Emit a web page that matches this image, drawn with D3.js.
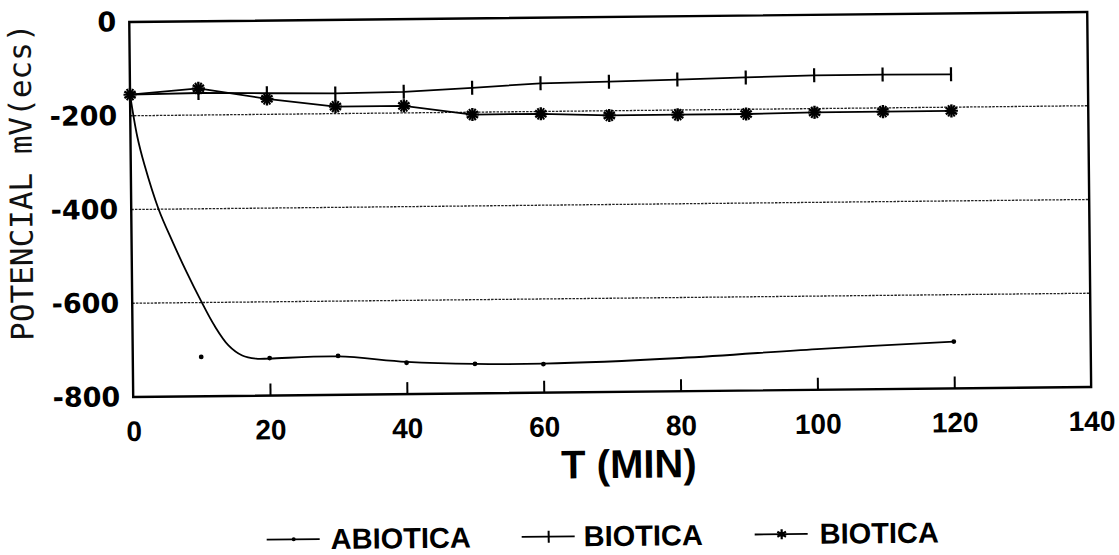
<!DOCTYPE html>
<html>
<head>
<meta charset="utf-8">
<script src="https://cdn.jsdelivr.net/npm/d3@7/dist/d3.min.js"></script>
<style>
  html, body { margin: 0; padding: 0; background: #fff; }
  svg { display: block; }
</style>
</head>
<body>
<svg id="chart" width="1119" height="555"></svg>
<script>
// Redox potential vs time, abiotic and biotic runs
const timeMin       = [0, 10, 20, 30, 40, 50, 60, 70, 80, 90, 100, 110, 120];
const bioticaPlus   = [-155, -153, -155, -157, -155, -148, -140, -138, -135, -132, -129, -129, -130];
const bioticaStar   = [-155, -143, -167, -185, -185, -205, -205, -210, -210, -210, -208, -208, -208];

// measured abiotic points
const abioticaTime  = [0, 10, 20, 30, 40, 50, 60, 120];
const abioticaValue = [-155, -716, -720, -717, -733, -737, -739, -700];

// smoothed abiotic trace
const abioticaFitTime  = [0, 1, 2, 4, 6, 8, 10, 12, 14, 16, 18, 20, 30, 40, 50, 60, 80, 100, 120];
const abioticaFitValue = [-155, -245, -305, -400, -470, -535, -595, -650, -692, -714, -721, -721, -718, -731, -737, -738, -729, -713, -700];

const xTicks = [0, 20, 40, 60, 80, 100, 120, 140];
const yTicks = [0, -200, -400, -600, -800];
const gridValues = [-200, -400, -600];

const legendLabels = ["ABIOTICA", "BIOTICA", "BIOTICA"];

const svg = d3.select("#chart");
const root = svg.append("g").attr("transform", "rotate(-0.6 610 280)");

const x = d3.scaleLinear().domain([0, 140]).range([132, 1090]);
const y = d3.scaleLinear().domain([-800, 0]).range([392, 17]);

const tickFont = "'Liberation Sans', Arial, sans-serif";

// dotted horizontal grid
root.append("g").selectAll("line").data(gridValues).join("line")
  .attr("x1", x(0)).attr("x2", x(140))
  .attr("y1", d => y(d)).attr("y2", d => y(d))
  .attr("stroke", "#222").attr("stroke-width", 1.3)
  .attr("stroke-dasharray", "2.5,1.2");

// x axis: ticks pointing inwards
const xAxis = root.append("g").attr("transform", `translate(0,${y(-800)})`)
  .call(d3.axisBottom(x).tickValues(xTicks).tickSizeInner(-12).tickSizeOuter(0).tickPadding(24).tickFormat(d => String(d)));
xAxis.select(".domain").remove();
xAxis.selectAll(".tick line").attr("stroke", "#000").attr("stroke-width", 2)
  .attr("opacity", d => (d === 0 || d === 140) ? 0 : 1);
xAxis.selectAll("text").attr("font-family", tickFont).attr("font-weight", "bold")
  .attr("font-size", 28).attr("fill", "#000");

// y axis labels
const yAxis = root.append("g").attr("transform", `translate(${x(0)},0)`)
  .call(d3.axisLeft(y).tickValues(yTicks).tickSize(0).tickPadding(13).tickFormat(d => String(d)));
yAxis.select(".domain").remove();
yAxis.selectAll("text").attr("font-family", "'DejaVu Sans', sans-serif").attr("font-weight", "bold")
  .attr("font-size", 27).attr("fill", "#000");

// frame
root.append("rect")
  .attr("x", x(0)).attr("y", y(0))
  .attr("width", x(140) - x(0)).attr("height", y(-800) - y(0))
  .attr("fill", "none").attr("stroke", "#000").attr("stroke-width", 2.4);

// axis titles
root.append("text")
  .attr("x", 627).attr("y", 478)
  .attr("text-anchor", "middle")
  .attr("font-family", tickFont).attr("font-weight", "bold").attr("font-size", 40)
  .text("T (MIN)");

root.append("text")
  .attr("transform", "translate(33,176) rotate(-90)")
  .attr("text-anchor", "middle")
  .attr("font-family", "'DejaVu Sans Mono', monospace").attr("font-size", 31)
  .attr("fill", "#111")
  .text("POTENCIAL mV(ecs)");

// series lines
const lineOf = (ts, vs, curve) => d3.line().curve(curve)
  .x((d, i) => x(ts[i])).y(d => y(d))(vs);

root.append("path").attr("d", lineOf(abioticaFitTime, abioticaFitValue, d3.curveCatmullRom.alpha(0.5)))
  .attr("fill", "none").attr("stroke", "#000").attr("stroke-width", 1.8);
root.append("path").attr("d", lineOf(timeMin, bioticaPlus, d3.curveLinear))
  .attr("fill", "none").attr("stroke", "#000").attr("stroke-width", 1.8);
root.append("path").attr("d", lineOf(timeMin, bioticaStar, d3.curveLinear))
  .attr("fill", "none").attr("stroke", "#000").attr("stroke-width", 1.8);

// markers
const dotMark = (g, cx, cy) => g.append("circle").attr("cx", cx).attr("cy", cy).attr("r", 2.4).attr("fill", "#000");
const plusMark = (g, cx, cy) => g.append("line").attr("x1", cx).attr("x2", cx).attr("y1", cy - 7).attr("y2", cy + 7)
  .attr("stroke", "#000").attr("stroke-width", 2.2);
const starPath = d3.symbol().type(d3.symbolAsterisk).size(120)();
const starMark = (g, cx, cy) => {
  g.append("path").attr("d", starPath).attr("transform", `translate(${cx},${cy})`)
    .attr("fill", "none").attr("stroke", "#000").attr("stroke-width", 2.4);
  g.append("path").attr("d", starPath).attr("transform", `translate(${cx},${cy}) rotate(90)`)
    .attr("fill", "none").attr("stroke", "#000").attr("stroke-width", 2);
  g.append("circle").attr("cx", cx).attr("cy", cy).attr("r", 2.4).attr("fill", "#000");
};

const marks = root.append("g");
abioticaTime.forEach((t, i) => dotMark(marks, x(t), y(abioticaValue[i])));
timeMin.forEach((t, i) => plusMark(marks, x(t), y(bioticaPlus[i])));
timeMin.forEach((t, i) => starMark(marks, x(t), y(bioticaStar[i])));

// legend
const legend = root.append("g");
const legendItems = [
  { x0: 264, tx: 328 },
  { x0: 519, tx: 581 },
  { x0: 752, tx: 817 }
];
const legendLineY = 536;
legendItems.forEach((it, i) => {
  legend.append("line").attr("x1", it.x0).attr("x2", it.x0 + 53)
    .attr("y1", legendLineY).attr("y2", legendLineY)
    .attr("stroke", "#000").attr("stroke-width", 1.8);
  const mg = legend.append("g");
  if (i === 1) {
    mg.append("line").attr("x1", it.x0 + 27).attr("x2", it.x0 + 27)
      .attr("y1", legendLineY - 6).attr("y2", legendLineY + 6)
      .attr("stroke", "#000").attr("stroke-width", 2);
  } else if (i === 2) {
    mg.append("path").attr("d", d3.symbol().type(d3.symbolAsterisk).size(70)())
      .attr("transform", `translate(${it.x0 + 27},${legendLineY})`)
      .attr("fill", "none").attr("stroke", "#000").attr("stroke-width", 2.2);
    mg.append("circle").attr("cx", it.x0 + 27).attr("cy", legendLineY).attr("r", 2.5);
  } else {
    mg.append("circle").attr("cx", it.x0 + 27).attr("cy", legendLineY).attr("r", 2);
  }
  legend.append("text").attr("x", it.tx).attr("y", 546)
    .attr("font-family", tickFont).attr("font-weight", "bold").attr("font-size", 29)
    .text(legendLabels[i]);
});
</script>
</body>
</html>
